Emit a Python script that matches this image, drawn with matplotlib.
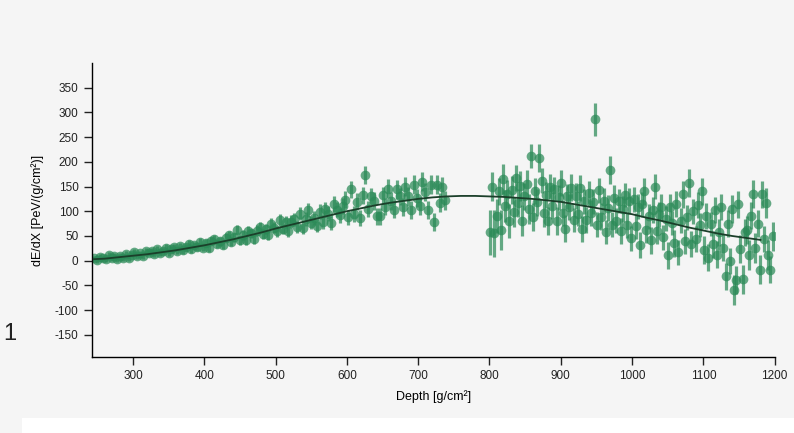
import matplotlib
matplotlib.use("Agg")
import matplotlib.pyplot as plt
from matplotlib.patches import Rectangle

plt.rcParams['font.family'] = ['Liberation Sans', 'DejaVu Sans']
plt.rcParams['axes.unicode_minus'] = False

# energy deposit profile, first telescope range (g/cm^2)
depth_a = [246, 250, 254, 258, 262, 266, 270, 274, 278, 282,
           286, 290, 294, 298, 302, 306, 310, 314, 318, 322,
           326, 330, 334, 338, 342, 346, 350, 354, 358, 362,
           366, 370, 374, 378, 382, 386, 390, 394, 398, 402,
           406, 410, 414, 418, 422, 426, 430, 434, 438, 442,
           446, 450, 454, 458, 462, 466, 470, 474, 478, 482,
           486, 490, 494, 498, 502, 506, 510, 514, 518, 522,
           526, 530, 534, 538, 542, 546, 550, 554, 558, 562,
           566, 570, 574, 578, 582, 586, 590, 594, 598, 602,
           606, 610, 614, 618, 622, 626, 630, 634, 638, 642,
           646, 650, 654, 658, 662, 666, 670, 674, 678, 682,
           686, 690, 694, 698, 702, 706, 710, 714, 718, 722,
           726, 730, 734, 738]
dedx_a = [5, 1, 8, 5, 3, 11, 5, 10, 3, 10,
          5, 13, 5, 12, 17, 10, 15, 9, 19, 15,
          19, 14, 23, 15, 19, 26, 16, 23, 27, 19,
          29, 21, 27, 33, 23, 31, 28, 38, 26, 35,
          26, 39, 43, 33, 39, 31, 46, 51, 38, 47,
          63, 41, 52, 41, 60, 55, 44, 61, 68, 54,
          64, 52, 74, 67, 59, 82, 64, 78, 60, 79,
          84, 68, 95, 67, 85, 103, 77, 87, 71, 99,
          78, 104, 95, 77, 114, 103, 92, 110, 123, 88,
          144, 95, 119, 87, 132, 174, 105, 130, 121, 90,
          90, 132, 109, 146, 121, 103, 144, 130, 109, 150,
          130, 103, 154, 127, 111, 160, 139, 102, 154, 78,
          154, 117, 150, 122]
err_a = [5, 5, 6, 5, 5, 6, 5, 6, 5, 6,
         5, 6, 6, 5, 6, 6, 5, 6, 6, 6,
         6, 6, 7, 6, 6, 7, 6, 7, 7, 6,
         7, 7, 7, 8, 7, 7, 8, 8, 7, 8,
         8, 8, 9, 8, 9, 8, 9, 10, 9, 9,
         10, 9, 10, 10, 11, 10, 10, 11, 11, 10,
         11, 11, 12, 11, 12, 12, 11, 12, 12, 13,
         13, 12, 13, 13, 14, 14, 13, 14, 13, 15,
         14, 15, 15, 14, 16, 15, 15, 16, 17, 15,
         18, 16, 17, 16, 17, 18, 16, 17, 18, 17,
         17, 18, 17, 19, 18, 17, 19, 18, 18, 19,
         19, 18, 20, 19, 18, 20, 19, 18, 20, 19,
         20, 19, 20, 19]

# second telescope range
depth_b = [801, 804, 807, 810, 813, 816, 819, 822, 825, 828,
           831, 834, 837, 840, 843, 846, 849, 852, 855, 858,
           861, 864, 867, 870, 873, 876, 879, 882, 885, 888,
           891, 894, 897, 900, 903, 906, 909, 912, 915, 918,
           921, 924, 927, 930, 933, 936, 939, 942, 945, 948,
           951, 954, 957, 960, 963, 966, 969, 972, 975, 978,
           981, 984, 987, 990, 993, 996, 999, 1002, 1005, 1008,
           1011, 1014, 1017, 1020, 1023, 1026, 1029, 1032, 1035, 1038,
           1041, 1044, 1047, 1050, 1053, 1056, 1059, 1062, 1065, 1068,
           1071, 1074, 1077, 1080, 1083, 1086, 1089, 1092, 1095, 1098,
           1101, 1104, 1107, 1110, 1113, 1116, 1119, 1122, 1125, 1128,
           1131, 1134, 1137, 1140, 1143, 1146, 1149, 1152, 1155, 1158,
           1161, 1164, 1167, 1170, 1173, 1176, 1179, 1182, 1185, 1188,
           1191, 1194, 1197]
dedx_b = [57, 150, 55, 90, 140, 62, 165, 110, 135, 80,
          143, 98, 167, 117, 151, 81, 130, 155, 104, 212,
          89, 141, 118, 208, 162, 96, 133, 80, 150, 111,
          144, 80, 128, 157, 96, 65, 130, 109, 148, 82,
          131, 95, 147, 64, 120, 82, 136, 97, 119, 286,
          73, 142, 89, 121, 58, 107, 184, 73, 127, 81,
          121, 60, 104, 133, 72, 121, 45, 124, 70, 109,
          32, 114, 140, 62, 90, 41, 103, 150, 60, 94,
          108, 47, 85, 11, 108, 76, 35, 114, 17, 81,
          134, 39, 88, 157, 34, 100, 44, 113, 72, 140,
          21, 90, 6, 74, 33, 103, 12, 57, 108, 26,
          -32, 75, -1, 104, -59, -39, 114, 23, -38, 57,
          62, 11, 91, 135, 25, 75, -18, 134, 44, 117,
          12, -18, 49]
err_b = [45, 30, 48, 35, 28, 40, 30, 32, 28, 35,
         28, 30, 26, 28, 30, 32, 27, 28, 30, 25,
         28, 26, 27, 28, 25, 27, 26, 28, 25, 27,
         26, 28, 25, 27, 26, 28, 25, 26, 27, 25,
         26, 25, 27, 26, 25, 27, 25, 26, 25, 34,
         26, 25, 27, 26, 25, 26, 28, 25, 26, 25,
         25, 27, 26, 25, 27, 26, 25, 26, 27, 25,
         26, 25, 27, 26, 25, 27, 26, 25, 26, 25,
         27, 26, 25, 27, 26, 25, 27, 26, 25, 26,
         27, 26, 25, 28, 26, 25, 27, 26, 25, 27,
         28, 26, 27, 25, 28, 26, 27, 28, 26, 27,
         28, 27, 26, 28, 30, 28, 27, 28, 30, 27,
         28, 30, 27, 28, 30, 28, 30, 28, 27, 30,
         30, 28, 30]

# profile fit read at fixed depths
fit_depth = [245, 260, 280, 300, 320, 340, 360, 380, 400, 420, 440, 460,
             480, 500, 520, 540, 560, 580, 600, 620, 640, 660, 680, 700,
             720, 740, 760, 780, 800, 820, 840, 860, 880, 900, 920, 940,
             960, 980, 1000, 1020, 1040, 1060, 1080, 1100, 1120, 1140,
             1160, 1180]
fit_dedx = [3, 4, 7, 10, 13, 17, 21, 26, 31, 37, 43, 50,
            57, 65, 72, 79, 86, 93, 100, 106, 112, 117, 121, 125,
            128, 130, 131, 131, 130, 129, 127, 125, 122, 119, 114, 109,
            104, 99, 94, 87, 81, 74, 67, 61, 55, 50,
            46, 42]

green = '#2b8a57'

fig = plt.figure(figsize=(7.94, 4.33), dpi=100)
fig.patch.set_facecolor('#f5f5f5')
ax = fig.add_axes([0.1154, 0.1755, 0.8603, 0.679])
ax.set_facecolor('#f5f5f5')

for d, v, e in [(depth_a, dedx_a, err_a), (depth_b, dedx_b, err_b)]:
    ax.errorbar(d, v, yerr=e, fmt='o', color=green, ms=7, mew=0,
                alpha=0.72, ecolor=green, elinewidth=2.3, capsize=0,
                zorder=2)

ax.plot(fit_depth, fit_dedx, color='#1b3f2a', lw=1.3, zorder=3)

ax.set_xlim(242, 1200)
ax.set_ylim(-195, 400)
ax.set_xticks(range(300, 1201, 100))
ax.set_yticks(range(-150, 351, 50))
for s in ['top', 'right']:
    ax.spines[s].set_visible(False)
for s in ['left', 'bottom']:
    ax.spines[s].set_linewidth(1.0)
ax.tick_params(direction='out', length=6, width=1, labelsize=8.5,
               colors='#222222')
ax.set_xlabel('Depth [g/cm²]', fontsize=9, labelpad=6)
ax.set_ylabel('dE/dX [PeV/(g/cm²)]', fontsize=9, labelpad=8)

fig.text(0.004, 0.215, '1', fontsize=17, color='#222222')
fig.add_artist(Rectangle((0.028, 0.0), 0.972, 0.035, transform=fig.transFigure,
                         facecolor='white', edgecolor='none'))

fig.savefig('out.png', dpi=100, facecolor=fig.get_facecolor())
